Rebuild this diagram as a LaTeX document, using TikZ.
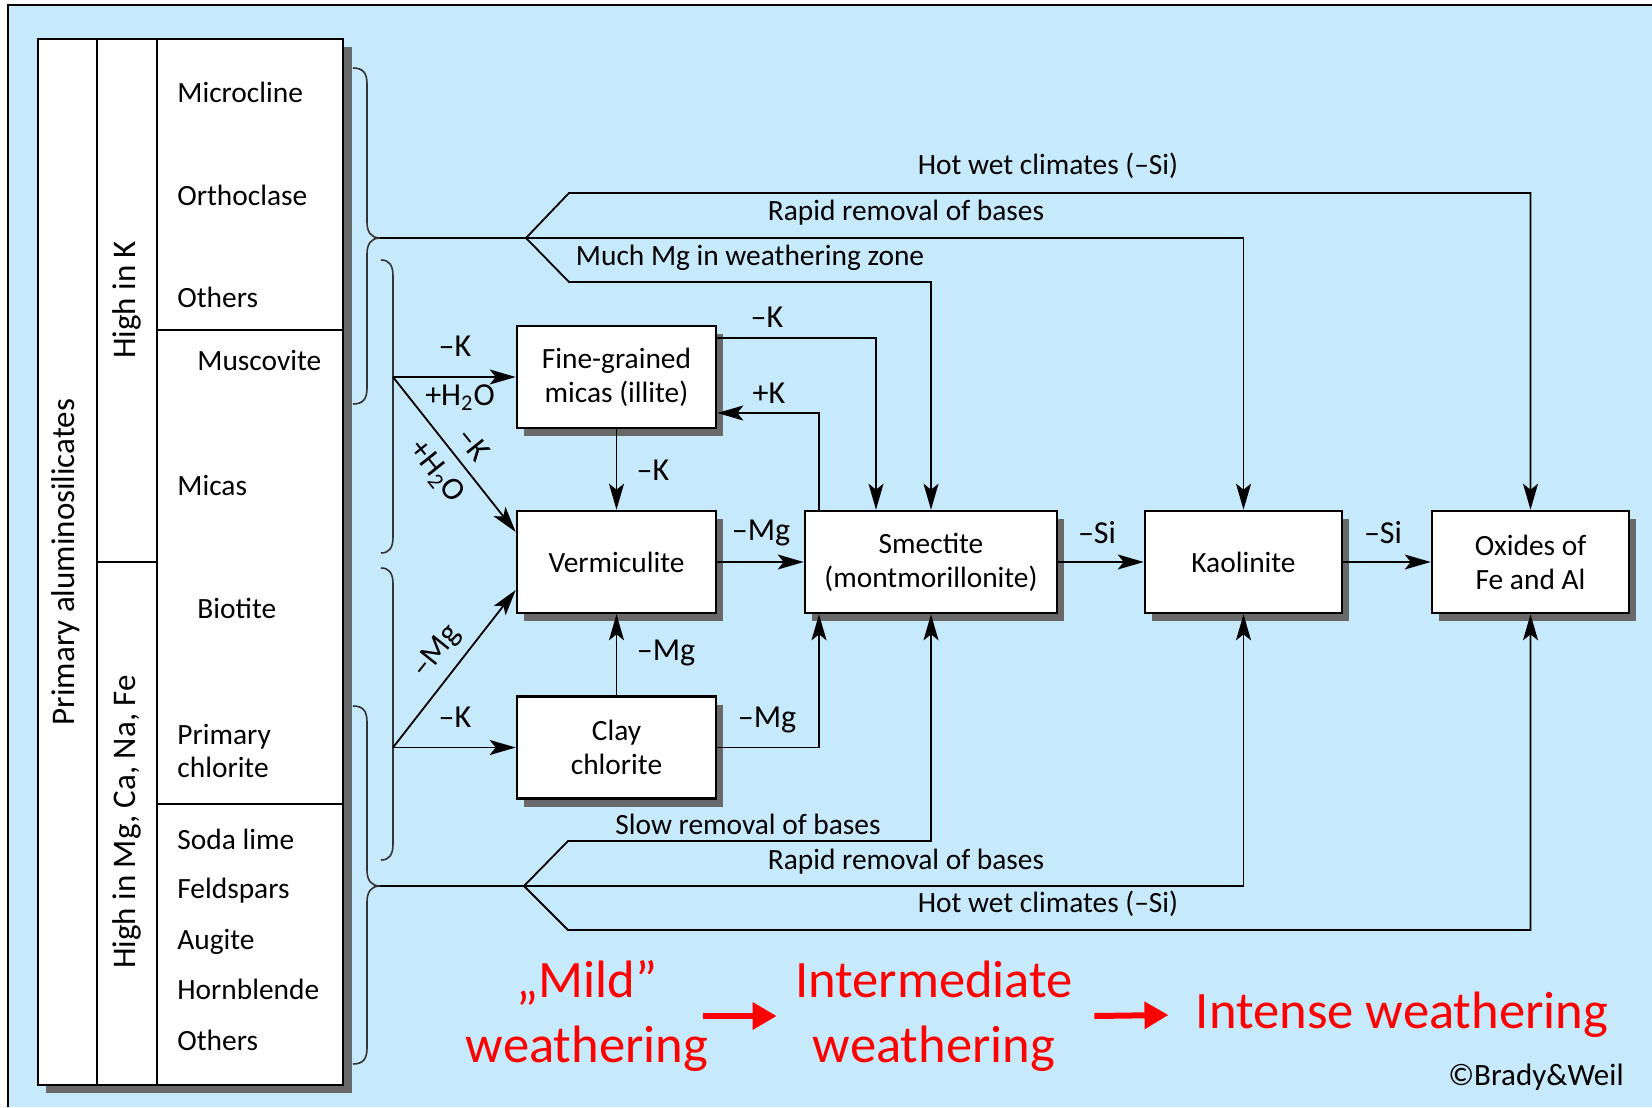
\documentclass[tikz,border=0pt]{standalone}
\usepackage{fontspec}
\setmainfont{Carlito}
\usetikzlibrary{arrows.meta,shadows}
\definecolor{skyback}{RGB}{198,233,251}
\definecolor{shadowgray}{RGB}{105,105,105}
\newcommand{\mfont}{\fontsize{14.7}{17}\selectfont}
\newcommand{\ionfont}{\fontsize{16}{18}\selectfont}
\newcommand{\sidefont}{\fontsize{16.5}{20}\selectfont}
\newcommand{\redfont}{\fontsize{26.3}{32.5}\selectfont}

\begin{document}
\begin{tikzpicture}[x=0.5pt,y=-0.5pt,
  arr/.style={-{Stealth[length=13pt,width=7.5pt,inset=3pt]},line width=0.9pt},
  brace/.style={line width=0.8pt,black!80},
  mineral/.style={anchor=west,font=\mfont,inner sep=0pt,text height=9.4pt,text depth=0pt},
  lab/.style={font=\mfont,inner sep=0pt},
  ion/.style={font=\ionfont,inner sep=0pt},
  clay/.style={draw,fill=white,line width=1.3pt,align=center,font=\mfont,minimum height=51pt,minimum width=99.5pt,inner sep=2pt,
    drop shadow={shadow xshift=3.5pt,shadow yshift=-4pt,fill=shadowgray,opacity=1}},
  redtxt/.style={red,font=\redfont,align=center,inner sep=0pt},
  redarr/.style={red,line width=3pt,-{Triangle[length=12pt,width=13pt]}}]
\useasboundingbox (0,0) rectangle (1652,1107);
\fill[white] (0,0) rectangle (1652,1107);
\fill[skyback] (8,5) rectangle (1652,1107);
\draw[line width=1.4pt] (8,1107) -- (8,5) -- (1652,5);

% table of primary minerals
\fill[shadowgray] (46,47) rectangle (352,1093);
\draw[fill=white,line width=1pt] (38,39) rectangle (343,1085);
\draw[line width=1pt] (97,39) -- (97,1085) (157,39) -- (157,1085) (97,562) -- (157,562)
  (157,330) -- (343,330) (157,804) -- (343,804);
\node[rotate=90,font=\sidefont] (primary) at (66,562) {Primary aluminosilicates};
\node[rotate=90,font=\sidefont] (highk) at (127,300) {High in K};
\node[rotate=90,font=\sidefont] (highmg) at (127,822) {High in Mg, Ca, Na, Fe};
\node[mineral] (microcline) at (177,93) {Microcline};
\node[mineral] (orthoclase) at (177,196) {Orthoclase};
\node[mineral] (othersk) at (177,298) {Others};
\node[mineral] (muscovite) at (197,361) {Muscovite};
\node[mineral] (micas) at (177,486) {Micas};
\node[mineral] (biotite) at (197,609) {Biotite};
\node[mineral] (primchl) at (177,735) {Primary};
\node[mineral] (primchlb) at (177,768) {chlorite};
\node[mineral] (sodalime) at (177,840) {Soda lime};
\node[mineral] (feldspars) at (177,889) {Feldspars};
\node[mineral] (augite) at (177,940) {Augite};
\node[mineral] (hornblende) at (177,990) {Hornblende};
\node[mineral] (othersmg) at (177,1041) {Others};

% braces
\draw[brace] (353,68) .. controls (363,68) and (367,73) .. (367,84) -- (367,222)
  .. controls (367,232) and (371,238) .. (380,238) .. controls (371,238) and (367,244) .. (367,254)
  -- (367,388) .. controls (367,399) and (363,404) .. (353,404);
\draw[brace] (381,260) .. controls (389,260) and (393,265) .. (393,276) -- (393,537)
  .. controls (393,548) and (389,553) .. (381,553);
\draw[brace] (381,568) .. controls (389,568) and (393,573) .. (393,584) -- (393,844)
  .. controls (393,855) and (389,860) .. (381,860);
\draw[brace] (353,706) .. controls (363,706) and (367,711) .. (367,722) -- (367,870)
  .. controls (367,880) and (371,886) .. (380,886) .. controls (371,886) and (367,892) .. (367,902)
  -- (367,1048) .. controls (367,1059) and (363,1064) .. (353,1064);

\coordinate (toptip) at (380,238);
\coordinate (topfork) at (526,238);
\coordinate (bottip) at (380,886);
\coordinate (botfork) at (524,886);
\coordinate (kfork) at (393,377);
\coordinate (mgfork) at (393,747.5);

% clay minerals
\node[clay] (illite) at (616.5,377) {Fine-grained\\micas (illite)};
\node[clay] (verm) at (616.5,562) {Vermiculite};
\node[clay] (claychl) at (616.5,747.5) {Clay\\chlorite};
\node[clay,minimum width=126pt] (smectite) at (931,562) {Smectite\\(montmorillonite)};
\node[clay,minimum width=98.5pt] (kaolinite) at (1243.5,562) {Kaolinite};
\node[clay,minimum width=98.5pt] (oxides) at (1530.5,562) {Oxides of\\Fe and Al};

\draw[arr] (kfork) -- (illite);
\draw[arr] (kfork) -- ([yshift=15pt]verm.west);
\draw[arr] (mgfork) -- (claychl);
\draw[arr] (mgfork) -- ([yshift=-14pt]verm.west);
\draw[arr] (illite) -- (verm);
\draw[arr] (claychl) -- (verm);
\draw[arr] (verm) -- (smectite);
\draw[arr] (smectite) -- (kaolinite);
\draw[arr] (kaolinite) -- (oxides);
\draw[arr] ([yshift=-6.5pt]illite.north east) -| ([xshift=-27.5pt]smectite.north);
\draw[arr] ([xshift=-56pt]smectite.north) |- ([yshift=-18pt]illite.east);
\draw[arr] (claychl) -| ([xshift=-56pt]smectite.south);

\draw[arr] (toptip) -| (kaolinite.north);
\draw[arr] (topfork) -- ++(43,-45) -| (oxides.north);
\draw[arr] (topfork) -- ++(43,44) -| (smectite.north);
\draw[arr] (bottip) -| (kaolinite.south);
\draw[arr] (botfork) -- ++(44,-45) -| (smectite.south);
\draw[arr] (botfork) -- ++(44,44) -| (oxides.south);

\node[lab] (hotwettop) at (1048,166) {Hot wet climates (–Si)};
\node[lab] (rapidtop) at (906,213) {Rapid removal of bases};
\node[lab] (muchmg) at (750,258) {Much Mg in weathering zone};
\node[lab] (slow) at (748,824) {Slow removal of bases};
\node[lab] (rapidbot) at (906,862) {Rapid removal of bases};
\node[lab] (hotwetbot) at (1048,904) {Hot wet climates (–Si)};

\node[ion] (lossk) at (455,346) {–K};
\node[ion] (water) at (460,398) {+H\textsubscript{2}O};
\node[ion,rotate=-51.3] (losskd) at (474,444) {–K};
\node[ion,rotate=-51.3] (waterd) at (436,472) {+H\textsubscript{2}O};
\node[ion,rotate=51.3] (lossmgd) at (437,652) {–Mg};
\node[ion] (losskc) at (455,717) {–K};
\node[ion] (lossks) at (767,317) {–K};
\node[ion] (gaink) at (769,393) {+K};
\node[ion] (losskv) at (653,470) {–K};
\node[ion] (lossmgv) at (761,533) {–Mg};
\node[ion] (lossmgc) at (666,653) {–Mg};
\node[ion] (lossmgs) at (767,720) {–Mg};
\node[ion] (losssik) at (1097,533) {–Si};
\node[ion] (losssio) at (1383,533) {–Si};

% weathering scale
\node[redtxt] (mild) at (587,1016) {„Mild”\\weathering};
\node[redtxt] (intermediate) at (934,1016) {Intermediate\\weathering};
\node[redtxt] (intense) at (1402,1015) {Intense weathering};
\draw[redarr] ([xshift=-3pt]mild.east) -- ([xshift=-9pt]intermediate.west);
\draw[redarr] ([xshift=10.5pt]intermediate.east) -- ([xshift=-13.5pt]intense.west);
\node[anchor=east,font=\fontsize{15.5}{18}\selectfont,inner sep=0pt] (credit) at (1624,1077) {©Brady\&Weil};
\end{tikzpicture}
\end{document}
